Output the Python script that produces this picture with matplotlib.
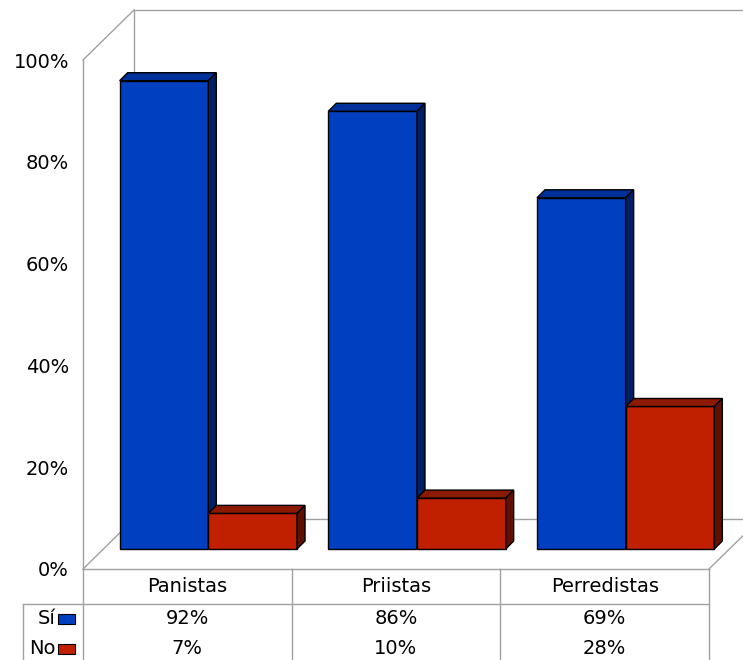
import matplotlib
matplotlib.use('Agg')
import matplotlib.pyplot as plt
from matplotlib.patches import Polygon, Rectangle

categories = ['Panistas', 'Priistas', 'Perredistas']
series_names = ['Sí', 'No']
si_values = [92, 86, 69]
no_values = [7, 10, 28]
yticks = [0, 20, 40, 60, 80, 100]

front_colors = ['#0040C0', '#C02000']
top_colors = ['#00309A', '#8C1A00']
side_colors = ['#002066', '#601000']
line_color = '#A0A0A0'

plt.rcParams['font.family'] = ['DejaVu Sans']
plt.rcParams['font.size'] = 14

fig = plt.figure(figsize=(7.43, 6.6), dpi=100)
ax = fig.add_axes([83 / 743, 91 / 660, 626 / 743, 509 / 660])
ax.set_xlim(-0.5, len(categories) - 0.5)
ax.set_ylim(0, 100)

# pixel size of one data unit, used to fake the 3d depth
ox, oy = ax.transData.transform((0, 0))
ux = ax.transData.transform((1, 0))[0] - ox
uy = ax.transData.transform((0, 1))[1] - oy

def px(dx, dy):
    return dx / ux, dy / uy

xmin, xmax = ax.get_xlim()
wx, wy = px(51, 50)          # wall depth
bx, by = px(21, 20)          # bar front plane
dx, dy = px(8, 8)            # bar depth

wall = dict(color=line_color, lw=1, clip_on=False, zorder=1)
# back wall and floor
ax.plot([xmin + wx, xmin + wx, xmax + wx], [wy, 100 + wy, 100 + wy], **wall)
ax.plot([xmin + wx, xmax + wx], [wy, wy], **wall)
# diagonals
ax.plot([xmin, xmin + wx], [100, 100 + wy], **wall)
ax.plot([xmin, xmin + wx], [0, wy], **wall)
ax.plot([xmax, xmax + wx], [0, wy], **wall)

# bars
width = 0.425
for i in range(len(categories)):
    for j, vals in enumerate([si_values, no_values]):
        x0 = i - width + j * width + bx
        x1 = x0 + width
        h = vals[i] + by
        ax.bar(x0, vals[i], width=width, bottom=by, align='edge',
               color=front_colors[j], edgecolor='black', lw=1,
               clip_on=False, zorder=3)
        top = Polygon([(x0, h), (x1, h), (x1 + dx, h + dy), (x0 + dx, h + dy)],
                      closed=True, facecolor=top_colors[j], edgecolor='black',
                      lw=1, clip_on=False, zorder=3)
        side = Polygon([(x1, by), (x1 + dx, by + dy), (x1 + dx, h + dy), (x1, h)],
                       closed=True, facecolor=side_colors[j], edgecolor='black',
                       lw=1, clip_on=False, zorder=3)
        ax.add_patch(top)
        ax.add_patch(side)

# axis
ax.set_yticks(yticks)
ax.set_yticklabels([f'{t}%' for t in yticks])
ax.set_xticks([])
ax.tick_params(axis='y', length=0, pad=10)
for s in ['top', 'right']:
    ax.spines[s].set_visible(False)
for s in ['left', 'bottom']:
    ax.spines[s].set_color(line_color)
    ax.spines[s].set_linewidth(1)

# data table
tab = dict(color=line_color, lw=1, clip_on=False, zorder=1)
left_edge = xmin - 60 / ux
bottom_edge = -95 / uy
ax.plot([left_edge, xmax], [-35 / uy, -35 / uy], **tab)
ax.plot([left_edge, left_edge], [-35 / uy, bottom_edge], **tab)
for k in range(len(categories) + 1):
    ax.plot([xmin + k, xmin + k], [0, bottom_edge], **tab)

for i, name in enumerate(categories):
    ax.text(i, -18 / uy, name, ha='center', va='center')
    ax.text(i, -50 / uy, f'{si_values[i]}%', ha='center', va='center')
    ax.text(i, -80 / uy, f'{no_values[i]}%', ha='center', va='center')

for j, (name, yrow) in enumerate(zip(series_names, [-50, -80])):
    ax.text(xmin - 27 / ux, yrow / uy, name, ha='right', va='center')
    ax.add_patch(Rectangle((xmin - 25 / ux, (yrow - 5) / uy), 17 / ux, 10 / uy,
                           facecolor=front_colors[j], edgecolor='black', lw=0.8,
                           clip_on=False))

fig.savefig('out.png', dpi=100)
